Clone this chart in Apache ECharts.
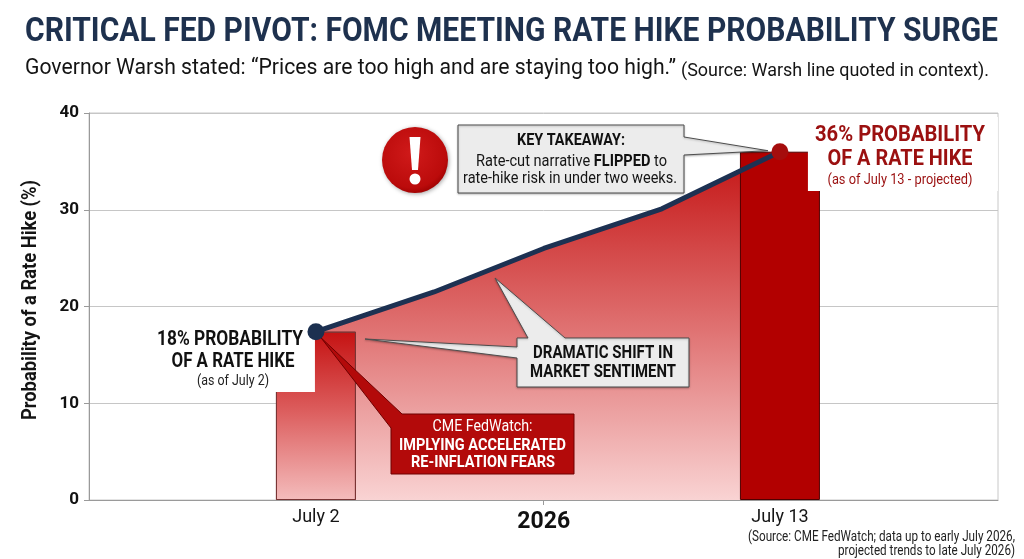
<!DOCTYPE html>
<html>
<head>
<meta charset="utf-8">
<script src="https://cdn.jsdelivr.net/npm/echarts@6/dist/echarts.min.js"></script>
<style>
html,body{margin:0;padding:0;background:#ffffff;}
#chart{width:1024px;height:559px;}
</style>
</head>
<body>
<div id="chart"></div>
<script>
// ---------------- DATA ----------------
const barLabels = ['July 2', 'July 13'];
const barDays = [2, 13];                 // day of July 2026
const barProb = [17.4, 36];              // % probability of a rate hike
const trendDays = [2, 4.8, 7.4, 10.2, 13];
const trendProb = [17.4, 21.5, 26.0, 30.1, 36.0];
const xTickValues = [2, 7.4, 13];
const xTickLabels = ['July 2', '2026', 'July 13'];
const yMin = 0, yMax = 40, yStep = 10;

const titleText = 'CRITICAL FED PIVOT: FOMC MEETING RATE HIKE PROBABILITY SURGE';
const subMain = 'Governor Warsh stated: \u201cPrices are too high and are staying too high.\u201d';
const subSmall = '(Source: Warsh line quoted in context).';
const yName = 'Probability of a Rate Hike (%)';
const sourceLines = ['(Source: CME FedWatch; data up to early July 2026,', 'projected trends to late July 2026)'];

// ---------------- HELPERS ----------------
const FONT = 'Roboto';
const mctx = document.createElement('canvas').getContext('2d');
function mw(t, f) { mctx.font = f; return mctx.measureText(t).width; }
function txt(text, x, y, size, weight, target, align, fill, extra) {
  const font = weight + ' ' + size + 'px ' + FONT;
  const sx = target ? target / mw(text, font) : 1;
  return Object.assign({
    type: 'text', x: x, y: y, scaleX: sx, z: 20, silent: true,
    style: { text: text, font: font, fill: fill, align: align, verticalAlign: 'middle',
             textAlign: align, textVerticalAlign: 'middle' }
  }, extra || {});
}

const chart = echarts.init(document.getElementById('chart'), null, { renderer: 'canvas' });

const lineData = trendDays.map((d, i) => [d, trendProb[i]]);
const last = trendDays.length - 1;

const option = {
  backgroundColor: '#ffffff',
  animation: false,
  grid: { left: 89, right: 26, top: 113, bottom: 59, show: true, borderColor: '#c8c8c8', borderWidth: 1, backgroundColor: 'transparent', outerBoundsMode: 'none' },
  xAxis: {
    type: 'value', min: -3.38, max: 18.17,
    axisLine: { show: true, onZero: false, lineStyle: { color: '#9a9a9a', width: 1 } },
    axisTick: { show: true, customValues: [xTickValues[1]], length: 5, lineStyle: { color: '#9a9a9a' } },
    splitLine: { show: false },
    axisLabel: {
      customValues: xTickValues, margin: 8,
      formatter: function (v) {
        for (let i = 0; i < xTickValues.length; i++) {
          if (Math.abs(xTickValues[i] - v) < 1e-6) {
            return i === 1 ? '{y|' + xTickLabels[i] + '}' : '{d|' + xTickLabels[i] + '}';
          }
        }
        return '';
      },
      rich: {
        d: { fontFamily: FONT, fontSize: 18, color: '#151515' },
        y: { fontFamily: FONT, fontSize: 23, fontWeight: 'bold', color: '#111111', padding: [3, 0, 0, 0] }
      }
    }
  },
  yAxis: {
    type: 'value', min: yMin, max: yMax, interval: yStep,
    axisLine: { show: true, onZero: false, lineStyle: { color: '#9a9a9a', width: 1 } },
    axisTick: { show: true, length: 5, lineStyle: { color: '#9a9a9a' } },
    axisLabel: { fontFamily: FONT, fontSize: 17, fontWeight: 'bold', color: '#111111', margin: 10 },
    splitLine: { show: true, lineStyle: { color: '#c6c6c6', width: 1 } }
  },
  series: [
    {
      name: 'area', type: 'line', z: 1, silent: true, data: lineData,
      symbol: 'none', lineStyle: { width: 0 },
      areaStyle: {
        opacity: 1,
        color: new echarts.graphic.LinearGradient(0, 0, 0, 1, [
          { offset: 0, color: '#c41414' },
          { offset: 0.5, color: '#df7070' },
          { offset: 1, color: '#f9d3d3' }
        ])
      }
    },
    {
      name: 'bars', type: 'bar', z: 2, silent: true, barWidth: 80,
      data: barDays.map((d, i) => ({
        value: [d, barProb[i]],
        itemStyle: i === 0 ? {
          color: new echarts.graphic.LinearGradient(0, 0, 0, 1, [
            { offset: 0, color: '#c51212' },
            { offset: 0.45, color: '#db5a5a' },
            { offset: 1, color: '#f4bcbc' }
          ]),
          borderColor: '#7a3434', borderWidth: 1
        } : { color: '#b20000', borderColor: '#4f0000', borderWidth: 1 }
      }))
    },
    {
      name: 'trend', type: 'line', z: 4, silent: true,
      data: lineData.map((p, i) => ({
        value: p,
        symbolSize: (i === 0 || i === last) ? 17 : 0,
        itemStyle: { color: i === last ? '#a50d0d' : '#1c3050', borderWidth: 0 }
      })),
      symbol: 'circle', showAllSymbol: true,
      lineStyle: { color: '#1d3152', width: 5, cap: 'round', join: 'round' }
    }
  ]
};
chart.setOption(option);

// pixel anchors from data
const pStart = chart.convertToPixel({ gridIndex: 0 }, [trendDays[0], trendProb[0]]);
const pEnd = chart.convertToPixel({ gridIndex: 0 }, [trendDays[last], trendProb[last]]);
const pBar1 = chart.convertToPixel({ gridIndex: 0 }, [barDays[0], 0]);
const pBar2 = chart.convertToPixel({ gridIndex: 0 }, [barDays[1], 0]);

const G = [];
// Title & subtitle
G.push(txt(titleText, 25, 32, 34, 'bold', 973, 'left', '#1e314e'));
G.push(txt(subMain, 25, 68, 22, 'normal', 651, 'left', '#141414'));
G.push(txt(subSmall, 681, 71, 18, 'normal', 308, 'left', '#141414'));
// Y axis name
G.push(txt(yName, 31, 300, 20, 'bold', 240, 'center', '#141414', { rotation: Math.PI / 2 }));
// Source
G.push(txt(sourceLines[0], 1015, 537, 14, 'normal', 267, 'right', '#222222'));
G.push(txt(sourceLines[1], 1015, 551, 14, 'normal', 177, 'right', '#222222'));

// White label backgrounds
G.push({ type: 'rect', z: 3, silent: true, shape: { x: 145, y: 324, width: pBar1[0] - 1 - 145, height: 392 - 324 }, style: { fill: '#ffffff' } });
G.push({ type: 'rect', z: 3, silent: true, shape: { x: pBar2[0] + 28, y: 117, width: 190, height: 191 - 117 }, style: { fill: '#ffffff' } });

// 18% label
G.push(txt('18% PROBABILITY', 230, 339.5, 21, 'bold', 146, 'center', '#111111'));
G.push(txt('OF A RATE HIKE', 233, 361.5, 21, 'bold', 123, 'center', '#111111'));
G.push(txt('(as of July 2)', 233, 381, 15, 'normal', 72, 'center', '#222222'));

// 36% label
G.push(txt('36% PROBABILITY', 900, 135, 22, 'bold', 170, 'center', '#9b1010'));
G.push(txt('OF A RATE HIKE', 900, 159.5, 22, 'bold', 145, 'center', '#9b1010'));
G.push(txt('(as of July 13 - projected)', 900, 180, 15, 'normal', 145, 'center', '#9b1010'));

// Exclamation icon
const ex = { x: 415, y: 160, r: 33 };
G.push({ type: 'circle', z: 10, silent: true, shape: { cx: ex.x, cy: ex.y, r: ex.r },
  style: { fill: new echarts.graphic.RadialGradient(0.45, 0.4, 0.65, [
    { offset: 0, color: '#d01a1a' }, { offset: 0.8, color: '#bb0b0b' }, { offset: 1, color: '#960000' }]),
    shadowBlur: 4, shadowColor: 'rgba(0,0,0,0.35)', shadowOffsetX: 1, shadowOffsetY: 1 } });
G.push({ type: 'polygon', z: 11, silent: true, shape: { points: [[ex.x - 5.5, ex.y - 23], [ex.x + 5.5, ex.y - 23], [ex.x + 3, ex.y + 10], [ex.x - 3, ex.y + 10]] }, style: { fill: '#ffffff' } });
G.push({ type: 'circle', z: 11, silent: true, shape: { cx: ex.x, cy: ex.y + 19, r: 5.5 }, style: { fill: '#ffffff' } });

// KEY TAKEAWAY callout (box + pointer to July 13 point)
const kt = { x0: 458, y0: 125, x1: 684, y1: 193 };
G.push({ type: 'polygon', z: 12, silent: true, shape: { points: [
  [kt.x0, kt.y0], [kt.x1, kt.y0], [kt.x1, 137], [pEnd[0] - 12, pEnd[1] - 1], [kt.x1, 155], [kt.x1, kt.y1], [kt.x0, kt.y1]] },
  style: { fill: '#ececec', stroke: '#4d4d4d', lineWidth: 1, shadowBlur: 2, shadowColor: 'rgba(0,0,0,0.25)', shadowOffsetY: 1 } });
G.push(txt('KEY TAKEAWAY:', 571, 141, 17, 'bold', 108, 'center', '#111111'));
(function () {
  const fn = 'normal 17px ' + FONT, fb = 'bold 17px ' + FONT;
  const a = 'Rate-cut narrative ', b = 'FLIPPED', c = ' to';
  const w = mw(a, fn) + mw(b, fb) + mw(c, fn);
  G.push({ type: 'text', x: 571.5, y: 162, scaleX: 191 / w, z: 20, silent: true,
    style: { text: '{n|' + a + '}{b|' + b + '}{n|' + c + '}', fill: '#151515', align: 'center', verticalAlign: 'middle', textAlign: 'center', textVerticalAlign: 'middle',
      rich: { n: { font: fn, fill: '#151515' }, b: { font: fb, fill: '#111111' } } } });
})();
G.push(txt('rate-hike risk in under two weeks.', 570, 179, 17, 'normal', 214, 'center', '#151515'));

// DRAMATIC SHIFT callout
const ds = { x0: 517, y0: 338, x1: 689, y1: 387 };
G.push({ type: 'polygon', z: 12, silent: true, shape: { points: [
  [ds.x0, ds.y0], [528, ds.y0], [495, 278], [565, ds.y0], [ds.x1, ds.y0], [ds.x1, ds.y1], [ds.x0, ds.y1], [ds.x0, 358], [365, 339], [ds.x0, 347]] },
  style: { fill: '#ececec', stroke: '#4d4d4d', lineWidth: 1, shadowBlur: 2, shadowColor: 'rgba(0,0,0,0.25)', shadowOffsetY: 1 } });
G.push(txt('DRAMATIC SHIFT IN', 603, 353.5, 18, 'bold', 140, 'center', '#111111'));
G.push(txt('MARKET SENTIMENT', 603, 372, 18, 'bold', 146, 'center', '#111111'));

// CME FedWatch red callout (pointer to July 2 point)
const cm = { x0: 391, y0: 414, x1: 574, y1: 474 };
G.push({ type: 'polygon', z: 3.5, silent: true, shape: { points: [
  [cm.x0, 428], [pStart[0] + 5, pStart[1] + 6], [402, cm.y0], [cm.x1, cm.y0], [cm.x1, cm.y1], [cm.x0, cm.y1]] },
  style: { fill: '#b30a0a', stroke: '#6e0000', lineWidth: 1 } });
G.push(txt('CME FedWatch:', 482.5, 427, 17, 'normal', 100, 'center', '#ffffff'));
G.push(txt('IMPLYING ACCELERATED', 482.5, 445.5, 17, 'bold', 167, 'center', '#ffffff'));
G.push(txt('RE-INFLATION FEARS', 483, 463, 17, 'bold', 144, 'center', '#ffffff'));

chart.setOption({ graphic: { elements: G } });
</script>
</body>
</html>
